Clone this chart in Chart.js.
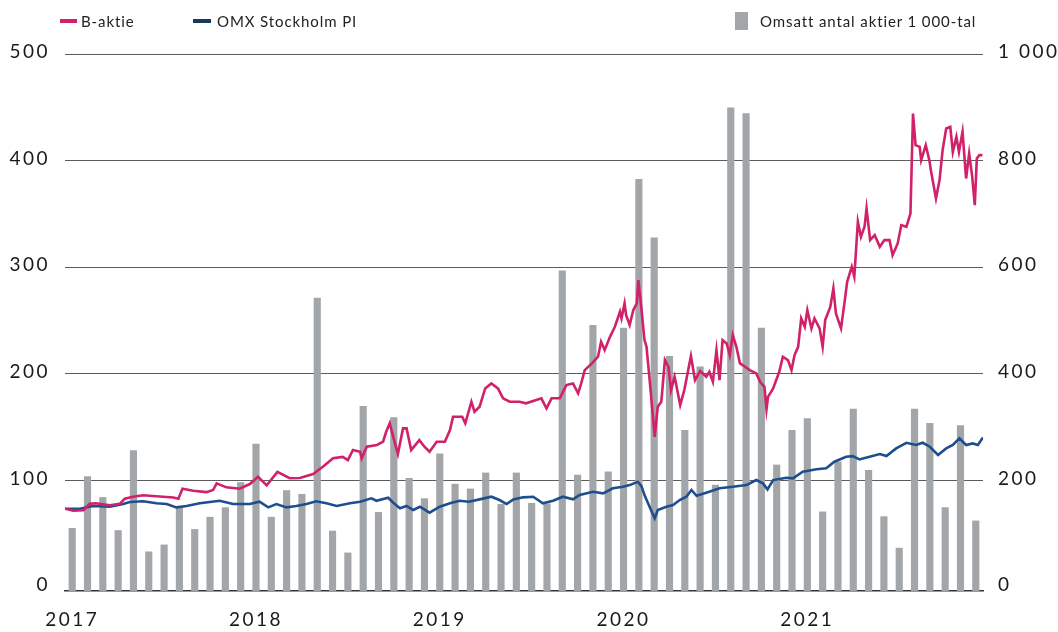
<!DOCTYPE html>
<html>
<head>
<meta charset="utf-8">
<script src="https://cdn.jsdelivr.net/npm/chart.js@4.4.1/dist/chart.umd.min.js"></script>
<style>
html,body{margin:0;padding:0;background:#fff;}
#wrap{position:relative;width:1058px;height:632px;overflow:hidden;font-family:Lato,"Open Sans",sans-serif;}
#c{position:absolute;left:0;top:0;}
.lg{position:absolute;font-size:15px;letter-spacing:0.9px;color:#222;line-height:18px;top:12px;white-space:nowrap;}
.sw{position:absolute;}
</style>
</head>
<body>
<div id="wrap">
<canvas id="c" width="1058" height="632"></canvas>
</div>
<script>
// ---------- DATA ----------
const seriesNames = ['B-aktie', 'OMX Stockholm PI', 'Omsatt antal aktier 1 000-tal'];
const yearLabels = ['2017', '2018', '2019', '2020', '2021'];
const yearTickMonths = ['2017-01', '2018-01', '2019-01', '2020-01', '2021-01'];
const leftTicks = [0, 100, 200, 300, 400, 500];
const leftTickLabels = ['0', '100', '200', '300', '400', '500'];
const rightTicks = [0, 200, 400, 600, 800, 1000];
const rightTickLabels = ['0', '200', '400', '600', '800', '1 000'];

const volumeMonths = [
 '2017-01','2017-02','2017-03','2017-04','2017-05','2017-06','2017-07','2017-08','2017-09','2017-10','2017-11','2017-12',
 '2018-01','2018-02','2018-03','2018-04','2018-05','2018-06','2018-07','2018-08','2018-09','2018-10','2018-11','2018-12',
 '2019-01','2019-02','2019-03','2019-04','2019-05','2019-06','2019-07','2019-08','2019-09','2019-10','2019-11','2019-12',
 '2020-01','2020-02','2020-03','2020-04','2020-05','2020-06','2020-07','2020-08','2020-09','2020-10','2020-11','2020-12',
 '2021-01','2021-02','2021-03','2021-04','2021-05','2021-06','2021-07','2021-08','2021-09','2021-10','2021-11','2021-12'];
const volume = [
 110, 207, 168, 106, 256, 66, 79, 151, 108, 131, 149, 196,
 268, 131, 181, 174, 542, 105, 64, 339, 140, 318, 204, 166,
 250, 193, 184, 214, 155, 214, 157, 156, 593, 210, 491, 216,
 486, 765, 655, 433, 294, 413, 191, 899, 888, 486, 229, 294,
 316, 141, 235, 334, 219, 132, 73, 334, 307, 149, 303, 124];

const bDates = ['2016-12-17','2017-01-03','2017-01-23','2017-02-05','2017-02-17','2017-03-15','2017-04-04','2017-04-14','2017-04-30','2017-05-20',
 '2017-06-09','2017-06-29','2017-07-19','2017-07-29','2017-08-07','2017-08-28','2017-09-24','2017-10-07','2017-10-14','2017-11-03',
 '2017-11-29','2017-12-19','2018-01-05','2018-01-22','2018-02-13','2018-03-07','2018-03-27','2018-04-23','2018-05-12','2018-06-02',
 '2018-06-21','2018-07-01','2018-07-11','2018-07-25','2018-07-28','2018-08-08','2018-08-28','2018-09-10','2018-09-16','2018-09-23',
 '2018-09-29','2018-10-09','2018-10-19','2018-10-26','2018-11-05','2018-11-21','2018-12-01','2018-12-11','2018-12-25','2019-01-11',
 '2019-01-21','2019-01-27','2019-02-15','2019-02-21','2019-03-03','2019-03-09','2019-03-19','2019-03-30','2019-04-12','2019-04-25',
 '2019-05-05','2019-05-18','2019-06-07','2019-06-20','2019-07-10','2019-07-20','2019-07-30','2019-08-10','2019-08-26','2019-09-09',
 '2019-09-22','2019-10-02','2019-10-08','2019-10-15','2019-10-29','2019-11-11','2019-11-17','2019-11-24','2019-12-04','2019-12-14',
 '2019-12-24','2019-12-27','2020-01-03','2020-01-06','2020-01-13','2020-01-20','2020-01-27','2020-01-30','2020-02-05','2020-02-12',
 '2020-02-16','2020-02-24','2020-03-02','2020-03-08','2020-03-15','2020-03-22','2020-03-29','2020-04-04','2020-04-11','2020-04-22',
 '2020-04-30','2020-05-13','2020-05-21','2020-05-31','2020-06-13','2020-06-19','2020-06-26','2020-07-03','2020-07-09','2020-07-15',
 '2020-07-23','2020-07-29','2020-08-05','2020-08-12','2020-08-19','2020-08-29','2020-09-08','2020-09-21','2020-09-29','2020-10-07',
 '2020-10-11','2020-10-14','2020-10-24','2020-11-06','2020-11-13','2020-11-23','2020-11-30','2020-12-06','2020-12-13','2020-12-19',
 '2020-12-26','2020-12-31','2021-01-09','2021-01-15','2021-01-25','2021-02-01','2021-02-06','2021-02-16','2021-02-22','2021-02-27',
 '2021-03-07','2021-03-14','2021-03-19','2021-03-28','2021-04-03','2021-04-10','2021-04-16','2021-04-23','2021-04-27','2021-05-04',
 '2021-05-13','2021-05-23','2021-06-02','2021-06-12','2021-06-18','2021-06-28','2021-07-05','2021-07-15','2021-07-23','2021-07-28',
 '2021-08-03','2021-08-11','2021-08-14','2021-08-23','2021-08-30','2021-09-03','2021-09-13','2021-09-20','2021-09-26','2021-10-03',
 '2021-10-11','2021-10-16','2021-10-23','2021-10-28','2021-11-05','2021-11-12','2021-11-18','2021-11-24','2021-11-29','2021-12-03',
 '2021-12-08','2021-12-14'];
const bValues = [73.4,71.5,72,78,78.5,76.6,78,82.8,84.7,86,
 85.3,84.7,84,82.8,92.2,90.3,89,91,97.2,93.5,
 92.2,96.6,103.4,95.4,108,102,102.2,106,112.8,120.7,
 122,119,128.5,126.9,120.7,131.6,133.2,136.3,145.6,153.5,
 142.5,124.7,148.8,148.8,128.5,137.8,131.6,126.9,136.3,136.3,
 147.2,159.7,159.7,153.5,173.8,164.4,169.1,186.3,191,186.3,
 177,173.8,173.8,172.3,175.4,177,167.6,177,177,189.4,
 191,181.6,191,203.5,209.8,216,230,222.2,234.2,244.1,
 258.2,252,266,255,245.7,259.7,266,287.9,266,231.6,
 225.3,184.7,140.9,169.1,173.8,212.9,206.6,184.7,197.2,170.7,
 184.7,216.6,194,202.5,197.2,201.9,192.5,222.2,194,231.6,
 228.5,217.6,236.3,225.3,209.8,206.6,203.5,200.4,192,187.8,
 166.6,178.4,186.3,201.9,216,212.9,203.5,217.6,225.3,252,
 244.1,259.7,242.6,252,242.6,225.3,250.4,262.8,280.1,256.6,
 242.6,267.5,286.3,300.4,291,342.6,328.5,337.9,355.1,325.4,
 330.1,319.1,325.4,325.4,311.3,322.3,339.5,337.9,350.4,444.2,
 414.5,412.9,400.4,414.5,400.4,391,364.5,381.7,409.8,430.1,
 431.6,408.2,422.3,408.2,427,383.2,406.6,384.8,358.2,402,
 405.1,405.1];

const omxDates = ['2016-12-17','2017-01-16','2017-02-12','2017-03-15','2017-04-11','2017-04-24','2017-05-20','2017-06-16','2017-07-06','2017-07-25',
 '2017-08-15','2017-09-11','2017-10-20','2017-11-16','2017-12-19','2018-01-08','2018-01-25','2018-02-11','2018-03-01','2018-03-20',
 '2018-04-10','2018-04-29','2018-05-19','2018-06-09','2018-07-05','2018-07-25','2018-08-17','2018-08-27','2018-09-20','2018-09-30',
 '2018-10-13','2018-10-26','2018-11-09','2018-11-22','2018-12-11','2019-01-01','2019-01-21','2019-02-10','2019-02-28','2019-03-19',
 '2019-04-12','2019-04-28','2019-05-12','2019-05-25','2019-06-14','2019-07-04','2019-07-23','2019-08-13','2019-09-02','2019-09-22',
 '2019-10-05','2019-11-01','2019-11-21','2019-12-10','2019-12-30','2020-01-13','2020-01-29','2020-02-06','2020-02-12','2020-02-22',
 '2020-03-02','2020-03-08','2020-03-25','2020-04-08','2020-04-21','2020-05-04','2020-05-14','2020-05-24','2020-06-19','2020-07-09',
 '2020-08-05','2020-09-02','2020-09-21','2020-10-04','2020-10-13','2020-10-24','2020-11-20','2020-12-03','2020-12-22','2021-01-19',
 '2021-02-08','2021-02-24','2021-03-17','2021-03-30','2021-04-13','2021-05-03','2021-05-23','2021-06-06','2021-06-25','2021-07-15',
 '2021-08-04','2021-08-17','2021-08-31','2021-09-17','2021-10-03','2021-10-16','2021-10-29','2021-11-12','2021-11-25','2021-12-05',
 '2021-12-15'];
const omxValues = [73.4,73.4,76,75.3,77.8,79.7,80.4,78.5,77.8,74.7,
 76,78.5,80.9,77.8,77.8,80,74.7,77.8,74.7,76,
 77.8,80.4,78.5,76,78.5,80,83.2,80.9,83.7,79,
 73.8,76,72.2,75.3,69.7,75.3,78.5,80.9,80,82.2,
 84.7,81.6,77.8,82.2,84.1,84.7,78.5,80.9,84.7,82.2,
 86.3,89.4,87.9,92.6,94.1,95.6,98.7,94.7,86.3,75.3,
 64.4,72.2,75.3,76.9,81.6,84.7,91,85.5,89.4,92.6,
 94.1,95.6,100.3,97.2,91.6,100.3,102.5,101.9,108.1,110.4,
 111.3,117.5,122.2,122.8,119.7,122.2,124.7,122.8,130,135.3,
 133.2,135.3,131.6,123.8,130,133.2,139.4,133.2,134.7,133.2,
 140.3];

// ---------- STYLE ----------
const COL_B = '#d0216a';
const COL_OMX = '#1f4e8e';
const COL_OMX_LEGEND = '#183a5c';
const COL_BAR = '#a3a6a9';
const TEXT = '#1a1a1a';
const FONT = 'Lato';

// month index since Jan 2017 (time position on the x axis)
function toM(s) {
  const p = s.split('-').map(Number);
  const d = p[2] || 1;
  return (p[0] - 2017) * 12 + (p[1] - 1) + (d - 1) / 30;
}

// ---------- LEGEND (HTML text) ----------
const wrap = document.getElementById('wrap');
const legendDefs = [
  {sw: 'left:60px;top:19px;width:17px;height:4px;background:' + COL_B, tx: 'left:81px'},
  {sw: 'left:193px;top:19px;width:18px;height:4px;background:' + COL_OMX_LEGEND, tx: 'left:217px'},
  {sw: 'left:735px;top:12px;width:13px;height:18px;background:' + COL_BAR, tx: 'left:760px'}
];
legendDefs.forEach((d, i) => {
  const s = document.createElement('div'); s.className = 'sw'; s.style.cssText = d.sw; wrap.appendChild(s);
  const t = document.createElement('div'); t.className = 'lg'; t.style.cssText = d.tx; t.textContent = seriesNames[i]; wrap.appendChild(t);
});

// ---------- CHART ----------
const SPACING = '2.5px';
const spacingPlugin = {
  id: 'spacing',
  afterInit(c) { c.ctx.letterSpacing = SPACING; },
  beforeUpdate(c) { c.ctx.letterSpacing = SPACING; },
  beforeDraw(c) { c.ctx.letterSpacing = SPACING; }
};

const tickFont = {family: FONT, size: 19, weight: '400'};
const yearTickVals = yearTickMonths.map(toM);

new Chart(document.getElementById('c'), {
  type: 'line',
  data: {
    datasets: [
      {
        type: 'line', label: seriesNames[0],
        data: bDates.map((d, i) => ({x: toM(d), y: bValues[i]})),
        borderColor: COL_B, borderWidth: 2.6, pointRadius: 0, tension: 0,
        yAxisID: 'y', order: 1
      },
      {
        type: 'line', label: seriesNames[1],
        data: omxDates.map((d, i) => ({x: toM(d), y: omxValues[i]})),
        borderColor: COL_OMX, borderWidth: 2.6, pointRadius: 0, tension: 0,
        yAxisID: 'y', order: 2
      },
      {
        type: 'bar', label: seriesNames[2],
        data: volumeMonths.map((m, i) => ({x: toM(m), y: volume[i]})),
        backgroundColor: COL_BAR, barThickness: 6.5, base: -7.5,
        yAxisID: 'y2', order: 3
      }
    ]
  },
  plugins: [spacingPlugin],
  options: {
    responsive: false,
    animation: false,
    devicePixelRatio: 1,
    layout: {padding: {top: 54, left: 0, right: 0, bottom: 0}},
    plugins: {legend: {display: false}, tooltip: {enabled: false}},
    scales: {
      x: {
        type: 'linear', min: -0.47, max: 59.47, offset: false, bounds: 'ticks',
        afterBuildTicks: s => { s.ticks = yearTickVals.map(v => ({value: v})); },
        ticks: {
          callback: v => yearLabels[yearTickVals.indexOf(v)],
          font: tickFont, color: TEXT, padding: 17, maxRotation: 0, autoSkip: false
        },
        grid: {display: false, drawTicks: false, offset: false},
        border: {display: true, color: '#333', width: 1.5},
        afterFit: s => { s.height = 41; }
      },
      y: {
        position: 'left', min: -3.75, max: 500,
        afterBuildTicks: s => { s.ticks = leftTicks.map(v => ({value: v})); },
        ticks: {
          callback: v => leftTickLabels[leftTicks.indexOf(v)],
          font: tickFont, color: TEXT, padding: 15, labelOffset: -2
        },
        grid: {
          drawTicks: false, lineWidth: 1,
          color: c => (c.tick && c.tick.value === 0) ? 'rgba(0,0,0,0)' : '#5c5c5c'
        },
        border: {display: false},
        afterFit: s => { s.width = 65; }
      },
      y2: {
        position: 'right', min: -7.5, max: 1000,
        afterBuildTicks: s => { s.ticks = rightTicks.map(v => ({value: v})); },
        ticks: {
          callback: v => rightTickLabels[rightTicks.indexOf(v)],
          font: tickFont, color: TEXT, padding: 15, labelOffset: -2
        },
        grid: {display: false, drawTicks: false},
        border: {display: false},
        afterFit: s => { s.width = 75; }
      }
    }
  }
});
</script>
</body>
</html>
